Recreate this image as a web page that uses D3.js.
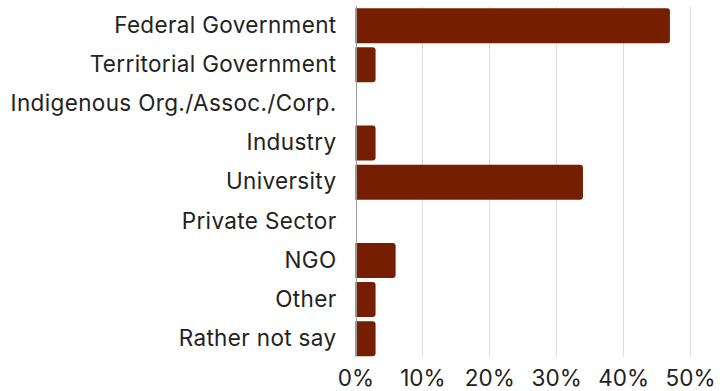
<!DOCTYPE html>
<html>
<head>
<meta charset="utf-8">
<script src="https://cdn.jsdelivr.net/npm/d3@7"></script>
<style>
  html, body { margin: 0; padding: 0; background: #fff; }
  svg { display: block; }
  text { font-family: Inter, "Open Sans", sans-serif; fill: #222; }
</style>
</head>
<body>
<svg id="chart" width="726" height="391"></svg>
<script>
// Share of respondents by sector
const categories = [
  "Federal Government",
  "Territorial Government",
  "Indigenous Org./Assoc./Corp.",
  "Industry",
  "University",
  "Private Sector",
  "NGO",
  "Other",
  "Rather not say"
];
const values = [0.47, 0.03, 0, 0.03, 0.34, 0, 0.06, 0.03, 0.03];
const tickValues = [0, 0.1, 0.2, 0.3, 0.4, 0.5];

const data = categories.map((c, i) => ({ category: c, value: values[i] }));

const svg = d3.select("#chart");

const x = d3.scaleLinear().domain([0, 0.5]).range([355.5, 690]);
const y = d3.scaleBand()
  .domain(categories)
  .range([6.2, 358.2])
  .paddingInner(0.105)
  .paddingOuter(0.0525);

const gridTop = 6, gridBottom = 357;

// vertical gridlines
svg.append("g")
  .selectAll("line")
  .data(tickValues.slice(1))
  .join("line")
  .attr("x1", d => Math.round(x(d)) + 0.5)
  .attr("x2", d => Math.round(x(d)) + 0.5)
  .attr("y1", gridTop)
  .attr("y2", gridBottom)
  .attr("stroke", "#dedede")
  .attr("stroke-width", 1);

// bars with rounded right ends
const r = 3;
function barPath(d) {
  const x0 = x(0), x1 = x(d.value), y0 = y(d.category), h = y.bandwidth();
  const rr = Math.min(r, (x1 - x0) / 2, h / 2);
  return `M${x0},${y0}H${x1 - rr}Q${x1},${y0} ${x1},${y0 + rr}` +
         `V${y0 + h - rr}Q${x1},${y0 + h} ${x1 - rr},${y0 + h}H${x0}Z`;
}
svg.append("g")
  .selectAll("path")
  .data(data.filter(d => d.value > 0))
  .join("path")
  .attr("d", barPath)
  .attr("fill", "#761e00");

// zero axis line
svg.append("line")
  .attr("x1", Math.round(x(0)) + 0.5)
  .attr("x2", Math.round(x(0)) + 0.5)
  .attr("y1", gridTop)
  .attr("y2", gridBottom)
  .attr("stroke", "#9a9a9a")
  .attr("stroke-width", 1);

// category labels
const yAxis = d3.axisLeft(y).tickSize(0).tickPadding(19);
svg.append("g")
  .attr("transform", `translate(${x(0)},0)`)
  .call(yAxis)
  .call(g => g.select(".domain").remove())
  .call(g => g.selectAll("text")
    .attr("font-size", 22.5)
    .attr("letter-spacing", 0.35)
    .attr("font-family", null)
    .attr("fill", "#222"));

// percentage ticks
const xAxis = d3.axisBottom(x).tickValues(tickValues).tickFormat(d3.format(".0%")).tickSize(0).tickPadding(13);
svg.append("g")
  .attr("transform", `translate(0,${gridBottom})`)
  .call(xAxis)
  .call(g => g.select(".domain").remove())
  .call(g => g.selectAll("text")
    .attr("font-size", 22.5)
    .attr("font-family", null)
    .attr("fill", "#222"));
</script>
</body>
</html>
